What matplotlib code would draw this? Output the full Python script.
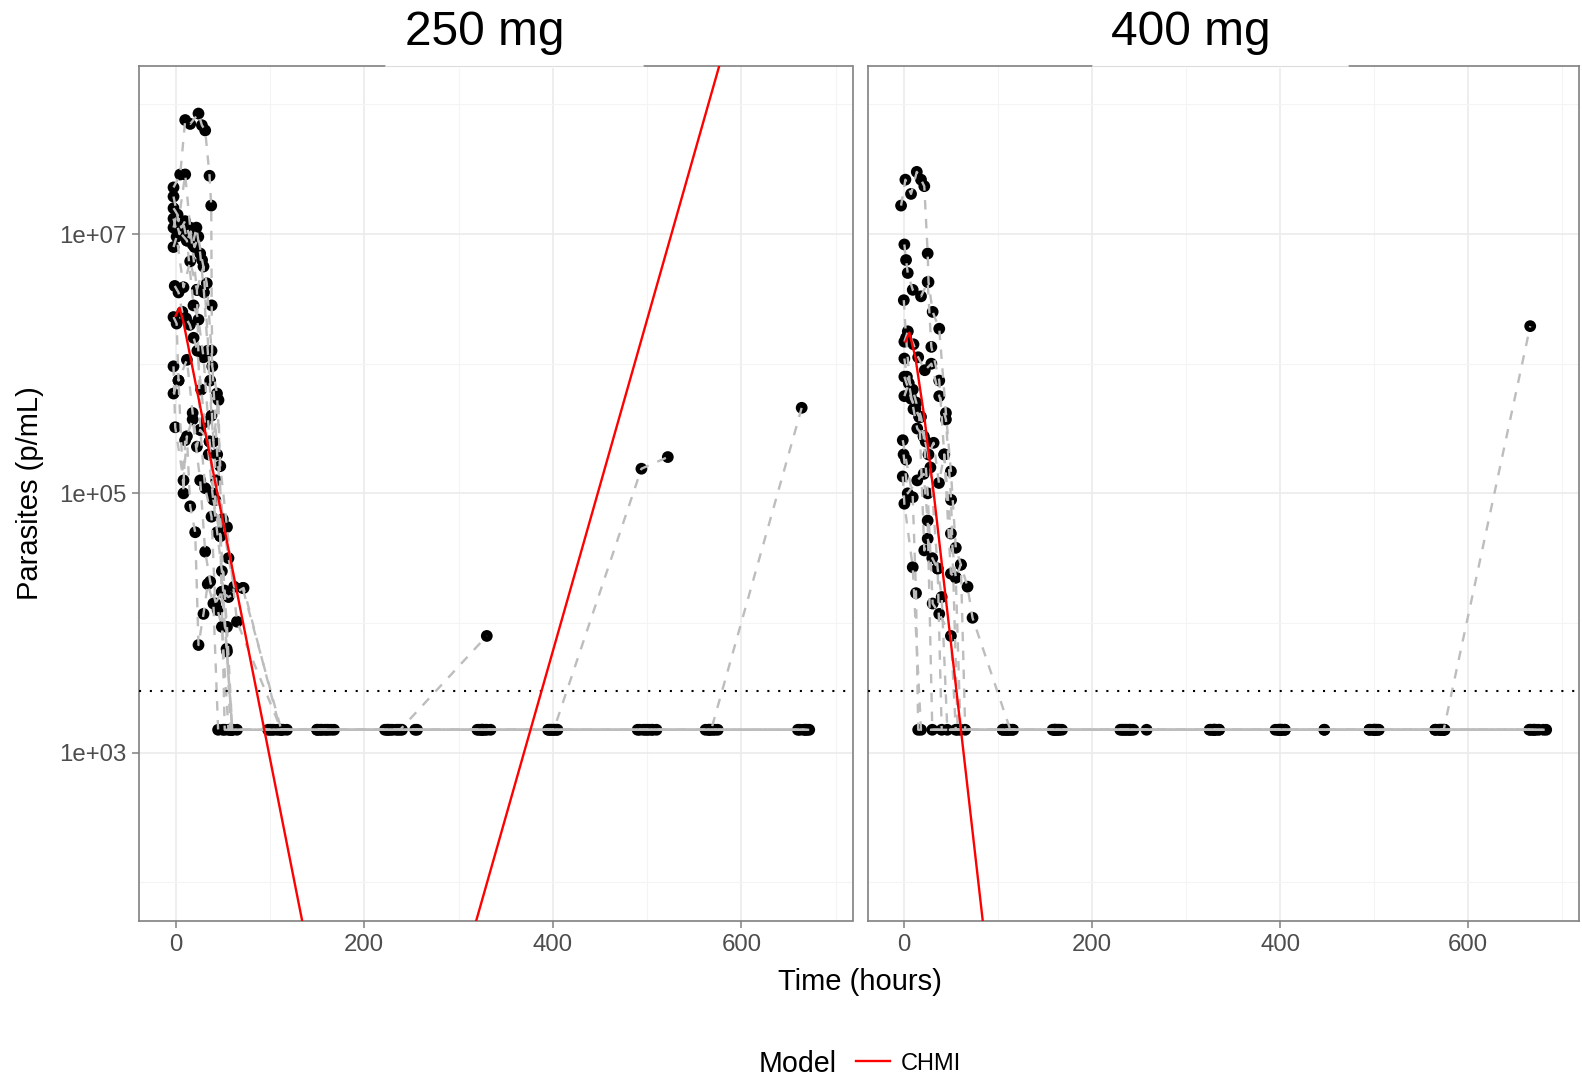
import numpy as np
import matplotlib
matplotlib.use('Agg')
import matplotlib.pyplot as plt
from matplotlib.lines import Line2D

plt.rcParams['font.family'] = ['Liberation Sans', 'DejaVu Sans']

# ---------------- data ----------------
panel_titles = ['250 mg', '400 mg']
LLOQ = 3000          # dotted line
BLQ = 1500           # censored observations are shown at LLOQ/2
C = np.log10(BLQ)

x_ticks = [0, 200, 400, 600]
x_tick_labels = ['0', '200', '400', '600']
y_ticks = [1e3, 1e5, 1e7]
y_tick_labels = ['1e+03', '1e+05', '1e+07']

# 250 mg subjects: time (h) and log10 parasites/mL
t250_s1 = [-2.3, 4.8, 10.1, 15.4, 24.2, 27.8, 31.3, 35.9, 37.7, 38.2, 38.8, 43.8, 47.3, 54.4, 65, 112, 160, 238, 330]
lp250_s1 = [7.36, 7.46, 7.88, 7.85, 7.93, 7.84, 7.80, 7.45, 7.22, 6.45, 5.98, 5.77, 5.21, 4.74, 4.01, C, C, C, 3.90]
t250_s2 = [-2.3, 3, 10.1, 15.4, 22.5, 29.5, 36.6, 40, 45.4, 49, 56, 72, 111, 155, 230, 254, 325, 401, 494, 522]
lp250_s2 = [7.29, 7.10, 7.46, 7.05, 6.57, 6.75, 5.87, 5.40, 5.72, 4.24, 4.20, 4.27, C, C, C, C, C, C, 5.19, 5.28]
t250_s3 = [-2.3, 0, 6, 11.9, 18.9, 24.2, 29.5, 36, 42, 47.3, 54.4, 60, 104, 152, 222, 320, 398, 498, 568, 664]
lp250_s3 = [7.12, 7.05, 7.00, 6.95, 6.45, 6.34, 6.05, 5.40, 4.95, 4.67, 3.97, C, C, C, C, C, C, C, C, 5.66]
t250_s4 = [-2.3, 1, 8.3, 15.4, 22.5, 26, 31.3, 38, 42, 49, 54.4, 60, 100, 150, 225, 325, 395, 490, 565, 668]
lp250_s4 = [6.90, 6.98, 6.59, 6.79, 6.57, 5.49, 5.04, 4.82, 4.15, 4.24, 3.78, C, C, C, C, C, C, C, C, C]
t250_s5 = [-2.3, 1, 3, 11.9, 18, 22.5, 26, 36, 40, 47.3, 52, 58, 108, 165, 240, 330, 405, 505, 575, 670]
lp250_s5 = [6.36, 6.31, 5.87, 6.03, 5.62, 5.36, 5.49, 5.40, 4.95, 4.67, C, C, C, C, C, C, C, C, C, C]
t250_s6 = [-2.3, -0.5, 8.3, 11.9, 15.4, 20.7, 24.2, 29.5, 34, 40, 45, 50, 98, 150, 226, 324, 396, 496, 566, 666]
lp250_s6 = [5.98, 5.51, 5.10, 5.44, 4.90, 4.70, 3.83, 4.07, 4.30, 4.15, C, C, C, C, C, C, C, C, C, C]
t250_s7 = [-2.3, 3, 8.3, 10, 18, 26, 31.3, 36.6, 44.5, 49, 56, 65, 118, 168, 234, 334, 402, 502, 572, 660]
lp250_s7 = [5.77, 5.87, 5.00, 5.41, 5.57, 5.10, 4.55, 4.32, 4.10, 3.97, C, C, C, C, C, C, C, C, C, C]
t250_s8 = [-2.3, 0, 4, 8.3, 12, 16, 20, 24, 28, 33, 38, 44, 50, 56, 62, 71, 112, 158, 236, 256, 328, 400, 500, 570, 668]
lp250_s8 = [7.05, 7.12, 7.00, 7.08, 6.95, 7.02, 6.90, 6.98, 6.80, 6.62, 6.10, 5.30, 4.80, 4.50, 4.28, 4.27, C, C, C, C, C, C, C, C, C]
t250_s9 = [-2.3, 2, 6, 10, 14, 18, 22, 26, 30, 34, 38, 43, 47.3, 52, 58, 114, 162, 228, 322, 404, 492, 510, 562, 662]
lp250_s9 = [7.20, 7.15, 7.05, 7.10, 7.00, 6.92, 7.05, 6.85, 6.55, 6.10, 5.60, 5.10, 4.70, 4.25, C, C, C, C, C, C, C, C, C, C]
t250_s10 = [-1, 3, 7, 11, 15, 19, 23, 27, 31, 35, 39, 44, 49, 54, 60, 102, 154, 224, 326, 398, 506, 566, 672]
lp250_s10 = [6.60, 6.55, 6.40, 6.35, 6.30, 6.20, 6.10, 5.80, 5.55, 5.30, 5.00, 4.70, 4.40, 3.80, C, C, C, C, C, C, C, C, C]

# 400 mg subjects
t400_s1 = [-3.2, 1.4, 7.4, 13.5, 18, 21.5, 25.1, 26, 30.4, 37.4, 44.5, 49.8, 55, 60.4, 67.5, 72.8, 113, 161, 236, 330, 400, 500, 570, 672]
lp400_s1 = [7.22, 7.42, 7.31, 7.48, 7.42, 7.37, 6.85, 6.63, 6.40, 6.27, 5.62, 5.17, 4.58, 4.45, 4.28, 4.04, C, C, C, C, C, C, C, C]
t400_s2 = [0.3, 2.1, 3.9, 9.2, 18, 25.1, 29, 37.4, 42.7, 49.8, 55, 60, 108, 165, 240, 330, 400, 500, 574, 666]
lp400_s2 = [6.92, 6.80, 6.70, 6.57, 6.52, 6.63, 6.13, 5.87, 5.30, 4.69, 4.35, C, C, C, C, C, C, C, C, 6.29]
t400_s3 = [-0.3, 2.1, 7.4, 16.2, 20.8, 25.1, 30.4, 37.4, 49.8, 55, 110, 160, 232, 325, 395, 447, 495, 565, 665]
lp400_s3 = [6.49, 6.20, 5.73, 5.59, 5.44, 5.00, 4.15, 4.07, 3.90, C, C, C, C, C, C, C, C, C, C]
t400_s4 = [0.3, 4, 10, 15, 22, 29, 37.4, 44.5, 50, 57, 105, 160, 240, 258, 330, 405, 505, 575, 675]
lp400_s4 = [6.17, 6.25, 6.15, 6.05, 5.95, 6.00, 5.75, 5.57, 4.95, C, C, C, C, C, C, C, C, C, C]
t400_s5 = [0.3, 3, 9.2, 13, 18, 23, 28, 35.7, 40, 46, 115, 168, 244, 335, 402, 502, 572, 683]
lp400_s5 = [6.04, 5.90, 5.80, 5.70, 5.59, 5.40, 5.20, 4.42, 4.20, C, C, C, C, C, C, C, C, C]
t400_s6 = [-1.4, 2.1, 9.2, 12.7, 15, 105, 158, 230, 326, 398, 498, 568, 668]
lp400_s6 = [5.41, 5.26, 4.97, 4.23, C, C, C, C, C, C, C, C, C]
t400_s7 = [-1.4, 0.3, 9.2, 18, 110, 162, 235, 328, 402, 447, 502, 572, 670]
lp400_s7 = [5.13, 4.92, 4.43, C, C, C, C, C, C, C, C, C, C]
t400_s8 = [-0.5, 3.9, 14, 20.8, 25.1, 30, 108, 165, 238, 332, 400, 495, 565, 680]
lp400_s8 = [5.30, 5.00, 5.10, 5.15, 4.79, C, C, C, C, C, C, C, C, C]
t400_s9 = [0.3, 7, 12, 16.2, 21.5, 25.1, 30, 35.7, 40, 116, 160, 233, 330, 405, 500, 570, 666]
lp400_s9 = [5.90, 5.75, 5.65, 5.59, 4.56, 4.65, 4.50, 4.42, C, C, C, C, C, C, C, C, C]
t400_s10 = [0.3, 5, 10, 14, 20.8, 26, 31.4, 37.1, 42.7, 49.8, 55, 60.4, 65, 112, 163, 242, 335, 398, 504, 574, 670]
lp400_s10 = [5.75, 5.85, 5.65, 5.50, 5.44, 5.30, 5.39, 5.08, 5.30, 4.38, 4.35, 4.45, C, C, C, C, C, C, C, C, C]

# Model (CHMI) prediction, log10 parasites/mL
model250_t = [0, 4, 8, 210, 690]
model250_lp = [6.37, 6.43, 6.33, -1.08, 11.2]
model400_t = [1.5, 5.6, 12, 21.5, 32, 65.3, 90]
model400_lp = [6.17, 6.24, 6.05, 5.59, 4.97, 2.87, 1.3]

subjects = {
    '250 mg': [(t250_s1, lp250_s1), (t250_s2, lp250_s2), (t250_s3, lp250_s3), (t250_s4, lp250_s4),
               (t250_s5, lp250_s5), (t250_s6, lp250_s6), (t250_s7, lp250_s7), (t250_s8, lp250_s8),
               (t250_s9, lp250_s9), (t250_s10, lp250_s10)],
    '400 mg': [(t400_s1, lp400_s1), (t400_s2, lp400_s2), (t400_s3, lp400_s3), (t400_s4, lp400_s4),
               (t400_s5, lp400_s5), (t400_s6, lp400_s6), (t400_s7, lp400_s7), (t400_s8, lp400_s8),
               (t400_s9, lp400_s9), (t400_s10, lp400_s10)],
}
models = {'250 mg': (model250_t, model250_lp), '400 mg': (model400_t, model400_lp)}

# ---------------- figure ----------------
W, H = 1582, 1078
fig = plt.figure(figsize=(W / 100, H / 100), dpi=100)
fig.patch.set_facecolor('white')

ax_boxes = [(139.2, 852.5), (867.7, 1579.0)]
top_px, bot_px = 65.6, 921.1
strip_gaps = [(0.344, 0.706), (0.315, 0.675)]
title_x = [484.3, 1190.6]

border_col = '#808080'
grid_major = '#ebebeb'
grid_minor = '#f4f4f4'

for i, name in enumerate(panel_titles):
    x0, x1 = ax_boxes[i]
    ax = fig.add_axes([x0 / W, 1 - bot_px / H, (x1 - x0) / W, (bot_px - top_px) / H])
    ax.set_yscale('log')
    ax.set_xlim(-38.7, 717.9)
    ax.set_ylim(10 ** 1.70, 10 ** 8.30)

    ax.set_xticks(x_ticks)
    ax.set_xticklabels(x_tick_labels)
    ax.set_xticks([100, 300, 500, 700], minor=True)
    ax.set_yticks(y_ticks)
    ax.set_yticks([1e2, 1e4, 1e6, 1e8], minor=True)
    ax.yaxis.set_minor_formatter(matplotlib.ticker.NullFormatter())
    ax.set_yticklabels(y_tick_labels if i == 0 else [])

    ax.grid(which='major', color=grid_major, lw=1.2, zorder=0)
    ax.grid(which='minor', color=grid_minor, lw=0.8, zorder=0)
    ax.set_axisbelow(True)

    ax.tick_params(which='minor', length=0)
    ax.tick_params(which='major', length=5, width=1.1, color=border_col,
                   labelsize=17.3, labelcolor='#4d4d4d', pad=4)
    if i == 1:
        ax.tick_params(axis='y', left=False, labelleft=False)

    for sp in ax.spines.values():
        sp.set_color(border_col)
        sp.set_linewidth(1.2)

    for t, lp in subjects[name]:
        vals = 10 ** np.asarray(lp, dtype=float)
        ax.scatter(t, vals, s=72, color='black', edgecolors='none', zorder=2)
        ax.plot(t, vals, color='#bdbdbd', lw=1.7, ls=(0, (4, 4)), zorder=3)

    ax.axhline(LLOQ, color='black', lw=1.5, ls=(0, (1, 4.2)), zorder=4)

    mt, mlp = models[name]
    ax.plot(mt, 10 ** np.asarray(mlp, dtype=float), color='red', lw=1.7, zorder=5)

    # strip label box overlapping the top border
    g0, g1 = strip_gaps[i]
    ax.plot([g0, g1], [1, 1], transform=ax.transAxes, color='white', lw=2.5,
            clip_on=False, zorder=10, solid_capstyle='butt')
    ax.plot([g0, g1], [1, 1], transform=ax.transAxes, color='#dcdcdc', lw=0.8,
            clip_on=False, zorder=11, solid_capstyle='butt')

    fig.text(title_x[i] / W, 1 - 45.4 / H, name, ha='center', va='baseline',
             fontsize=34.5, color='black')

# axis titles
fig.text(859.5 / W, 1 - 989.8 / H, 'Time (hours)', ha='center', va='baseline',
         fontsize=21, color='black')
fig.text(29.8 / W, 1 - 493.4 / H, 'Parasites (p/mL)', ha='center', va='center',
         rotation=90, fontsize=21, color='black')

# legend
fig.text(758.7 / W, 1 - 1072.0 / H, 'Model', ha='left', va='baseline',
         fontsize=20.6, color='black')
handle = Line2D([], [], color='red', lw=1.7)
fig.legend(handles=[handle], labels=['CHMI'], loc='center left',
           bbox_to_anchor=(855.6 / W, 1 - 1063.5 / H), frameon=False,
           fontsize=17, handlelength=1.45, handletextpad=0.45,
           borderpad=0, borderaxespad=0)

fig.savefig('out.png', dpi=100, facecolor='white')
